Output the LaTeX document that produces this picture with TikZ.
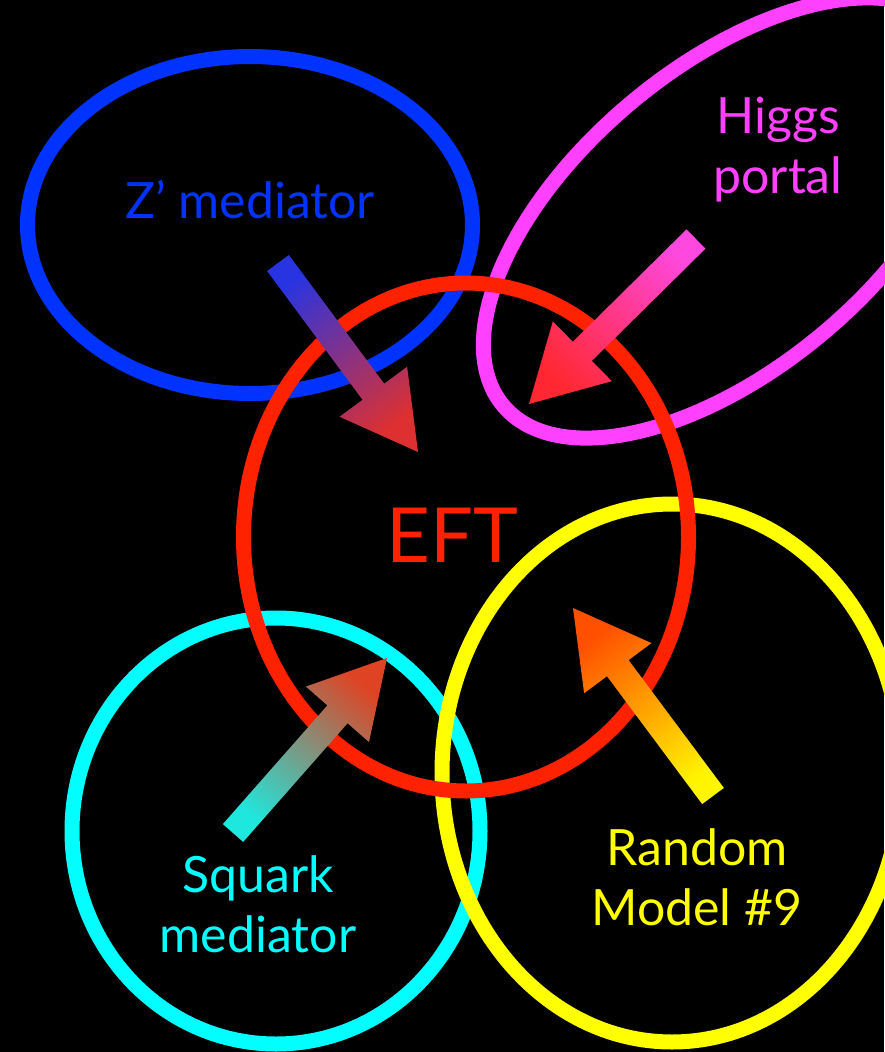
\documentclass[tikz,border=0pt]{standalone}
\usepackage{fontspec}
\setmainfont{Lato}
\usetikzlibrary{calc}
\definecolor{zblue}{RGB}{0,51,255}
\definecolor{hmag}{RGB}{255,64,255}
\definecolor{eftred}{RGB}{255,34,0}
\definecolor{sqcyan}{RGB}{0,255,255}
\definecolor{rmyel}{RGB}{255,255,0}
\definecolor{ablue}{RGB}{40,52,225}
\definecolor{ablueend}{RGB}{222,48,48}
\definecolor{amag}{RGB}{255,72,222}
\definecolor{amagend}{RGB}{255,40,50}
\definecolor{acyan}{RGB}{30,232,222}
\definecolor{acyanend}{RGB}{222,68,36}
\definecolor{ayel}{RGB}{255,245,0}
\definecolor{ayelend}{RGB}{255,80,0}
\newcommand{\fatarrow}[5]{%
  \shade[bottom color=#3, top color=#4, shading angle=#5]
    ($(#1)!13.5pt!90:(#2)$) --
    ($($(#2)!75pt!(#1)$)!13.5pt!90:(#2)$) --
    ($($(#2)!75pt!(#1)$)!42pt!90:(#2)$) --
    (#2) --
    ($($(#2)!75pt!(#1)$)!42pt!-90:(#2)$) --
    ($($(#2)!75pt!(#1)$)!13.5pt!-90:(#2)$) --
    ($(#1)!13.5pt!-90:(#2)$) -- cycle;}
\tikzset{
  ring/.style={line width=15pt},
  lbl/.style={inner sep=0pt, align=center, font=\fontsize{50}{60}\selectfont}
}
\begin{document}
\begin{tikzpicture}[x=1pt,y=1pt]
\useasboundingbox (0,0) rectangle (884,-1052);
\fill[black] (0,0) rectangle (884,-1052);
% ellipses
\draw[ring, zblue] (250,-225) ellipse [x radius=222.5, y radius=168.5];
\draw[ring, hmag, rotate around={40:(727,-218)}] (727,-218) ellipse [x radius=292, y radius=150];
\draw[ring, sqcyan] (276,-831) ellipse [x radius=204, y radius=213];
\draw[ring, rmyel] (672,-773) ellipse [x radius=230, y radius=269];
\draw[ring, eftred] (466,-537) ellipse [x radius=222.5, y radius=254];
% labels
\node[lbl, text=zblue] (zlab) at (250,-200) {Z’ mediator};
\node[lbl, text=hmag] (hlab) at (778,-150) {Higgs\\portal};
\node[inner sep=0pt, text=eftred, font=\fontsize{76}{80}\selectfont] (eft) at (452,-535) {EFT};
\node[lbl, text=sqcyan] (slab) at (258,-904) {Squark\\mediator};
\node[lbl, text=rmyel] (rlab) at (697,-877) {Random\\Model \#9};
% arrow endpoints
\coordinate (zt) at (278,-263);
\coordinate (zh) at (418,-452);
\coordinate (ht) at (696,-239);
\coordinate (hh) at (529,-404);
\coordinate (st) at (233,-833);
\coordinate (sh) at (387,-658);
\coordinate (rt) at (713,-796);
\coordinate (rh) at (573,-608);
\fatarrow{zt}{zh}{ablue}{ablueend}{-143.5}
\fatarrow{ht}{hh}{amag}{amagend}{134.7}
\fatarrow{st}{sh}{acyan}{acyanend}{-41.3}
\fatarrow{rt}{rh}{ayel}{ayelend}{36.7}
\end{tikzpicture}
\end{document}
